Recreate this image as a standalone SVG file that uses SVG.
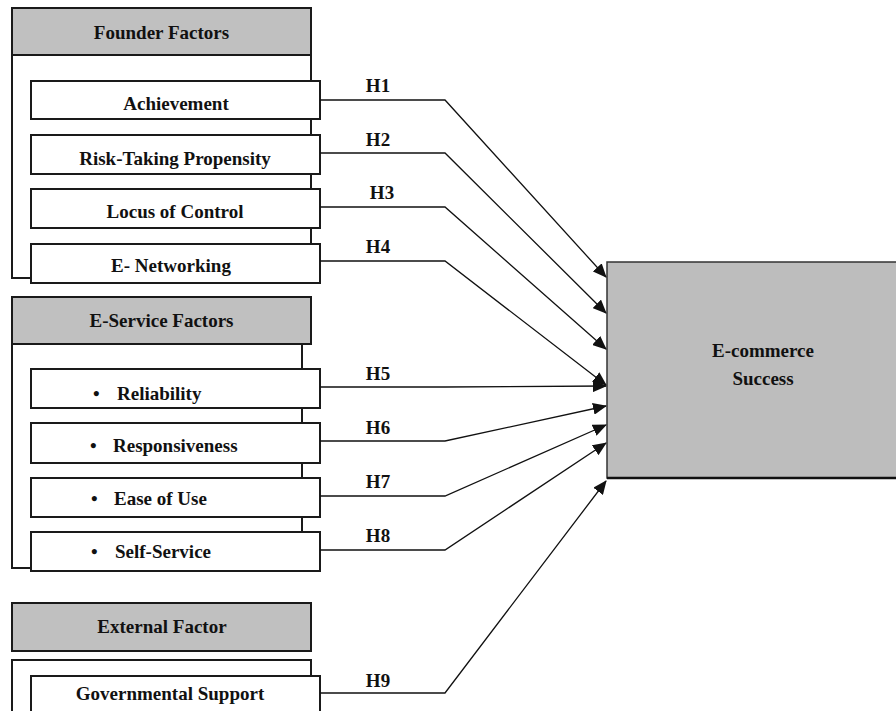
<svg xmlns="http://www.w3.org/2000/svg" width="896" height="711" viewBox="0 0 896 711">
<style>
text{font-family:"Liberation Serif","Times New Roman",serif;font-weight:bold;font-size:19px;fill:#111}
.hdr{fill:#c0c0c0;stroke:#1a1a1a;stroke-width:2}
.cont{fill:#fff;stroke:#1a1a1a;stroke-width:2}
.box{fill:#fff;stroke:#1a1a1a;stroke-width:2}
.c{text-anchor:middle}
.conn{fill:none;stroke:#111;stroke-width:1.3}
</style>
<defs>
<marker id="ah" markerUnits="userSpaceOnUse" markerWidth="14" markerHeight="12" refX="13" refY="6" orient="auto">
<path d="M0,0 L14,6 L0,12 z" fill="#111"/>
</marker>
</defs>

<g id="founder-factors">
<rect class="cont" x="12" y="55" width="299" height="223"/>
<rect class="hdr" x="12" y="8" width="299" height="47"/>
<text class="c" x="161.5" y="39">Founder Factors</text>
</g>
<g id="achievement"><rect class="box" x="31" y="81" width="289" height="38"/><text class="c" x="176" y="110">Achievement</text></g>
<g id="risk-taking"><rect class="box" x="31" y="135" width="289" height="39"/><text class="c" x="175" y="165">Risk-Taking Propensity</text></g>
<g id="locus"><rect class="box" x="31" y="189" width="289" height="39"/><text class="c" x="175" y="218">Locus of Control</text></g>
<g id="e-networking"><rect class="box" x="31" y="244" width="289" height="39"/><text class="c" x="171" y="272">E- Networking</text></g>

<g id="e-service-factors">
<path class="cont" d="M12,344 V568 H31 M302,344 V532"/>
<rect class="hdr" x="12" y="297" width="299" height="47"/>
<text class="c" x="161.5" y="327">E-Service Factors</text>
</g>
<g id="reliability"><rect class="box" x="31" y="369" width="289" height="39"/><text><tspan x="93" y="400">•</tspan><tspan x="117" y="400">Reliability</tspan></text></g>
<g id="responsiveness"><rect class="box" x="31" y="423" width="289" height="40"/><text><tspan x="90" y="452">•</tspan><tspan x="113" y="452">Responsiveness</tspan></text></g>
<g id="ease-of-use"><rect class="box" x="31" y="478" width="289" height="39"/><text><tspan x="91" y="505">•</tspan><tspan x="114" y="505">Ease of Use</tspan></text></g>
<g id="self-service"><rect class="box" x="31" y="532" width="289" height="39"/><text><tspan x="91" y="558">•</tspan><tspan x="115" y="558">Self-Service</tspan></text></g>

<g id="external-factor">
<rect class="hdr" x="12" y="603" width="299" height="48"/>
<text class="c" x="162" y="633">External Factor</text>
<rect class="cont" x="12" y="660" width="299" height="60"/>
</g>
<g id="governmental-support"><rect class="box" x="31" y="676" width="289" height="50"/><text class="c" x="170" y="700">Governmental Support</text></g>

<g id="e-commerce-success">
<rect x="607" y="262" width="300" height="216" fill="#bdbdbd" stroke="#333" stroke-width="1.5"/>
<line x1="607" y1="478" x2="896" y2="478" stroke="#111" stroke-width="2.5"/>
<text class="c" x="763" y="357">E-commerce</text>
<text class="c" x="763" y="385">Success</text>
</g>

<g id="connectors">
<path class="conn" marker-end="url(#ah)" d="M320,100 H445 L606,277"/>
<path class="conn" marker-end="url(#ah)" d="M320,153 H445 L606,313"/>
<path class="conn" marker-end="url(#ah)" d="M320,207 H445 L606,349"/>
<path class="conn" marker-end="url(#ah)" d="M320,261 H445 L606,385"/>
<path class="conn" marker-end="url(#ah)" d="M320,387 H445 L606,386"/>
<path class="conn" marker-end="url(#ah)" d="M320,441 H445 L606,406"/>
<path class="conn" marker-end="url(#ah)" d="M320,496 H445 L606,425"/>
<path class="conn" marker-end="url(#ah)" d="M320,550 H445 L606,443"/>
<path class="conn" marker-end="url(#ah)" d="M320,693 H445 L606,481"/>
<text class="c" x="378" y="92">H1</text>
<text class="c" x="378" y="146">H2</text>
<text class="c" x="382" y="199">H3</text>
<text class="c" x="378" y="253">H4</text>
<text class="c" x="378" y="380">H5</text>
<text class="c" x="378" y="434">H6</text>
<text class="c" x="378" y="488">H7</text>
<text class="c" x="378" y="542">H8</text>
<text class="c" x="378" y="687">H9</text>
</g>
</svg>
